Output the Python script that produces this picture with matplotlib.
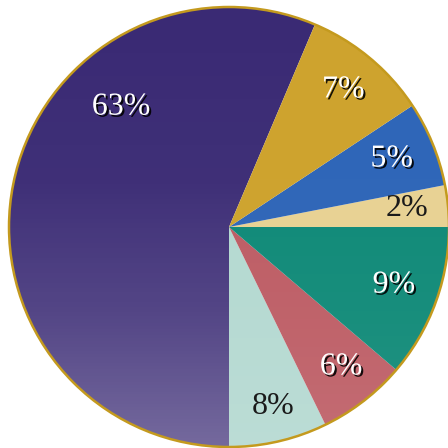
import numpy as np
import matplotlib
matplotlib.use("Agg")
import matplotlib.pyplot as plt
import matplotlib.patheffects as pe
from matplotlib.colors import LinearSegmentedColormap
from matplotlib.patches import Circle

# ── Data (counter-clockwise from the 63% / 7% boundary) ──────────────────
labels = ["63%", "8%", "6%", "9%", "2%", "5%", "7%"]
# wedge sizes as drawn in the picture (degrees of arc)
arc_deg = [203.0, 26.0, 23.5, 40.5, 11.0, 22.5, 33.5]

# ── Styles ────────────────────────────────────────────────────────────────
colours = ["#3a2a74", "#b4d9d1", "#bd5c64", "#108a78", "#e8d294", "#2f66b8", "#cea32e"]
shade_alpha = [0.30, 0.10, 0.10, 0.08, 0.05, 0.08, 0.08]
text_colours = ["white", "#1a1a1a", "white", "white", "#1a1a1a", "white", "white"]
shadow = [True, False, True, True, False, True, True]
# label positions in pie units (radius = 1)
label_xy = [(-0.49, 0.545), (0.20, -0.815), (0.51, -0.636), (0.75, -0.264),
            (0.81, 0.082), (0.74, 0.309), (0.52, 0.623)]
rim = "#c49a1e"

fig = plt.figure(figsize=(4.48, 4.48), dpi=100)
ax = fig.add_axes([0, 0, 1, 1])
ax.axis("off")

wedges, _ = ax.pie(arc_deg, colors=colours, startangle=67, counterclock=True,
                   radius=1.0, wedgeprops=dict(linewidth=0))

# soft shading: lighter toward the bottom of the disc, mostly in the lower third
grad = np.linspace(0, 1, 256).reshape(-1, 1)
for w, a in zip(wedges, shade_alpha):
    shade = LinearSegmentedColormap.from_list(
        "shade", [(0.0, (1, 1, 1, a)), (0.3, (1, 1, 1, a * 0.45)),
                  (0.6, (1, 1, 1, a * 0.1)), (1.0, (1, 1, 1, 0.0))])
    im = ax.imshow(grad, extent=(-1, 1, -1, 1), cmap=shade, origin="lower",
                   zorder=2, aspect="auto")
    im.set_clip_path(w)

ax.add_patch(Circle((0, 0), 1.0, fill=False, edgecolor=rim, linewidth=1.8, zorder=5))

for lab, (x, y), tc, sh in zip(labels, label_xy, text_colours, shadow):
    effects = [pe.withSimplePatchShadow(offset=(1.4, -1.4), shadow_rgbFace="black", alpha=0.9)] if sh else []
    ax.text(x, y, lab, ha="center", va="center", fontsize=23, color=tc,
            family="Liberation Serif", path_effects=effects, zorder=6)

# pie centre sits at (229, 227) px with a radius of ~220 px
ax.set_xlim(-229 / 220, (448 - 229) / 220)
ax.set_ylim(-(448 - 227) / 220, 227 / 220)
ax.set_aspect("auto")

fig.savefig("out.png", dpi=100, facecolor="white")
